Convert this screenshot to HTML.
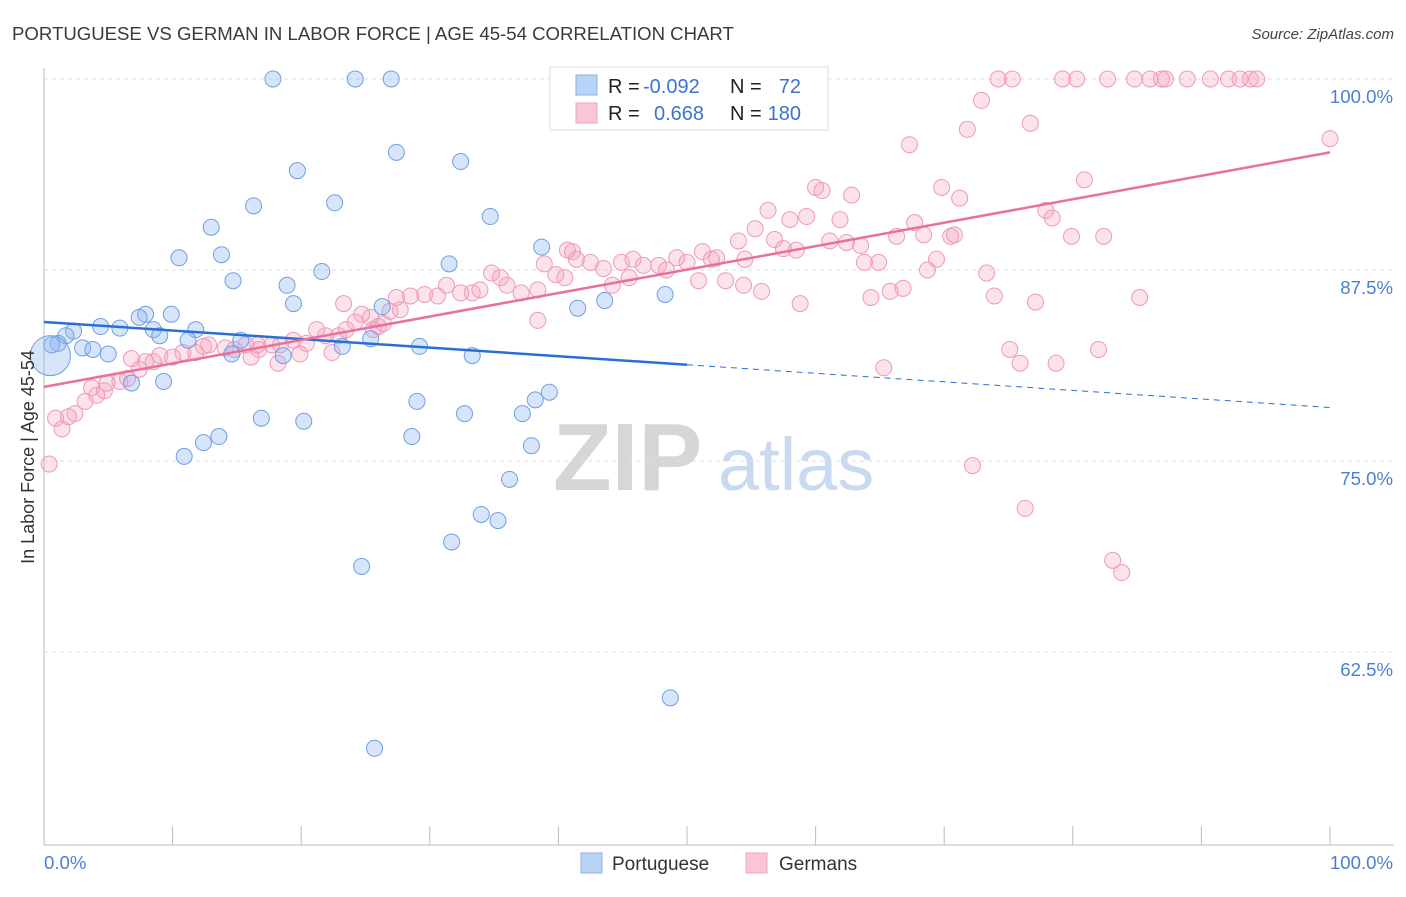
<!DOCTYPE html>
<html><head><meta charset="utf-8"><style>
body{margin:0;background:#fff;font-family:"Liberation Sans",sans-serif;}
svg text{font-family:"Liberation Sans",sans-serif;}
</style></head><body>
<svg id="chart" width="1406" height="892" xmlns="http://www.w3.org/2000/svg">
<text x="12" y="40" font-size="18.6" fill="#3a3a3a">PORTUGUESE VS GERMAN IN LABOR FORCE | AGE 45-54 CORRELATION CHART</text>
<text x="1394" y="39" font-size="15" fill="#444" font-style="italic" text-anchor="end">Source: ZipAtlas.com</text>
<g>
<text x="553" y="490" font-size="96" fill="#d6d6d6" font-family="Liberation Serif" font-weight="bold">ZIP</text>
<text x="718" y="490" font-size="74" fill="#c9daf0">atlas</text>
</g>
<g id="grid"></g>
<g id="axes"></g>
<g id="marks"></g>
<g>
<rect x="550" y="67" width="278" height="63" fill="#fff" stroke="#ddd"/>
<rect x="576" y="75" width="21" height="20" fill="#b9d3f5" stroke="#8ab2ea"/>
<rect x="576" y="103" width="21" height="20" fill="#fac6d6" stroke="#f0a4bc"/>
<text x="608" y="93" font-size="20" fill="#222">R =</text>
<text x="643" y="93" font-size="20" fill="#3b73d4">-0.092</text>
<text x="730" y="93" font-size="20" fill="#222">N =</text>
<text x="801" y="93" font-size="20" fill="#3b73d4" text-anchor="end">72</text>
<text x="608" y="120" font-size="20" fill="#222">R =</text>
<text x="654" y="120" font-size="20" fill="#3b73d4">0.668</text>
<text x="730" y="120" font-size="20" fill="#222">N =</text>
<text x="801" y="120" font-size="20" fill="#3b73d4" text-anchor="end">180</text>
</g>
<g>
<rect x="581" y="853" width="21" height="20" fill="#b9d3f5" stroke="#8ab2ea"/>
<text x="612" y="870" font-size="19" fill="#333">Portuguese</text>
<rect x="746" y="853" width="21" height="20" fill="#fac6d6" stroke="#f0a4bc"/>
<text x="779" y="870" font-size="19" fill="#333">Germans</text>
</g>
<text transform="translate(34,457) rotate(-90)" font-size="18" fill="#333" text-anchor="middle">In Labor Force | Age 45-54</text>
</svg>
<script>
const blueX=[17.8,24.2,27.0,45.4,19.7,27.4,32.4,16.3,22.6,34.7,13.0,13.8,10.5,38.7,31.5,14.7,18.9,21.6,19.4,48.3,43.6,41.5,26.3,9.9,7.9,7.4,4.4,5.9,8.5,2.3,1.7,11.8,9.0,1.1,3.0,3.8,5.0,11.2,15.3,23.2,25.4,29.2,33.3,14.6,18.6,9.3,6.8,29.0,39.3,38.2,37.2,32.7,16.9,20.2,13.6,12.4,28.6,37.9,10.9,36.2,34.0,35.3,31.7,24.7,48.7,25.7,0.6];
const blueY=[100,100,100,100,94.0,95.2,94.6,91.7,91.9,91.0,90.3,88.5,88.3,89.0,87.9,86.8,86.5,87.4,85.3,85.9,85.5,85.0,85.1,84.6,84.6,84.4,83.8,83.7,83.6,83.5,83.2,83.6,83.2,82.7,82.4,82.3,82.0,82.9,82.9,82.5,83.0,82.5,81.9,82.0,81.9,80.2,80.1,78.9,79.5,79.0,78.1,78.1,77.8,77.6,76.6,76.2,76.6,76.0,75.3,73.8,71.5,71.1,69.7,68.1,59.5,56.2,82.6];
const bigX=[0.5], bigY=[81.9];
const pinkX=[74.2,75.3,79.2,80.3,82.7,84.8,86.0,86.9,87.2,88.9,90.7,92.1,93.0,93.8,94.3,72.9,100,76.7,71.8,67.3,80.9,69.8,71.2,60.0,60.5,62.8,56.3,59.3,58.0,61.9,67.7,77.9,78.4,55.3,54.0,56.8,57.5,58.5,61.1,62.4,63.5,66.3,68.4,70.5,70.8,79.9,82.4,69.4,68.7,63.8,64.9,73.3,41.1,41.4,42.5,43.5,44.9,45.8,46.6,47.8,48.4,49.2,50.0,51.2,51.9,52.3,54.5,50.9,53.0,54.4,55.8,64.3,65.8,66.8,73.9,77.1,85.2,58.8,40.7,38.9,39.8,40.5,38.4,37.1,35.5,34.8,36.0,33.9,33.3,32.4,31.3,30.6,29.6,28.5,27.4,27.7,26.9,26.0,26.4,25.4,24.7,24.2,23.5,22.9,21.9,21.2,20.4,19.4,18.4,17.7,16.7,16.6,15.7,14.8,14.1,12.8,12.4,11.8,10.8,10.0,9.0,8.5,7.9,7.4,6.8,6.5,5.9,4.9,4.7,4.1,3.7,3.2,2.4,1.9,0.9,1.4,0.4,18.2,19.9,22.4,16.1,23.3,25.6,38.4,44.2,45.5,75.1,75.9,78.7,82.0,65.3,72.2,76.3,83.1,83.8];
const pinkY=[100,100,100,100,100,100,100,100,100,100,100,100,100,100,100,98.6,96.1,97.1,96.7,95.7,93.4,92.9,92.2,92.9,92.7,92.4,91.4,91.0,90.8,90.8,90.6,91.4,90.9,90.2,89.4,89.5,88.9,88.8,89.4,89.3,89.1,89.7,89.8,89.7,89.8,89.7,89.7,88.2,87.5,88.0,88.0,87.3,88.7,88.2,88.0,87.6,88.0,88.2,87.8,87.8,87.5,88.3,88.0,88.7,88.2,88.3,88.2,86.8,86.8,86.5,86.1,85.7,86.1,86.3,85.8,85.4,85.7,85.3,88.8,87.9,87.2,87.0,86.2,86.0,87.0,87.3,86.5,86.2,86.0,86.0,86.5,85.8,85.9,85.8,85.7,84.9,84.8,83.8,84.0,84.4,84.6,84.1,83.6,83.2,83.2,83.6,82.7,82.9,82.6,82.6,82.3,82.6,82.6,82.3,82.4,82.6,82.5,82.1,82.1,81.8,81.9,81.5,81.5,81.0,81.7,80.4,80.2,80.1,79.6,79.3,79.8,78.9,78.1,77.9,77.8,77.1,74.8,81.4,82.0,82.1,81.8,85.3,83.6,84.2,86.5,87.0,82.3,81.4,81.4,82.3,81.1,74.7,71.9,68.5,67.7];
const blueTrend=[[0,84.1],[50,81.3],[100,78.5]];
const pinkTrend=[[0,79.85],[100,95.2]];
const yTicks=[100,87.5,75,62.5];
const yTickLabels=["100.0%","87.5%","75.0%","62.5%"];
const xTicks=[0,10,20,30,40,50,60,70,80,90,100];

const NS="http://www.w3.org/2000/svg";
const sx=v=>44+v*12.86;
const sy=v=>79+(100-v)*15.28;
function mk(parent,tag,attrs){const e=document.createElementNS(NS,tag);for(const k in attrs)e.setAttribute(k,attrs[k]);parent.appendChild(e);return e;}
const grid=document.getElementById('grid'),axes=document.getElementById('axes'),marks=document.getElementById('marks');
yTicks.forEach((t,i)=>{
  const l=mk(grid,'line',{x1:44,x2:1394,y1:sy(t),y2:sy(t),stroke:'#ddd','stroke-dasharray':'4,4'});
  
  
  const tx=mk(axes,'text',{x:1393,y:sy(t)+24,'font-size':18.6,fill:'#4a7fd6','text-anchor':'end'});
  tx.textContent=yTickLabels[i];
  
  
});
const ax=mk(axes,'line',{x1:44,x2:44,y1:68,y2:845,stroke:'#bbb'});


const bx=mk(axes,'line',{x1:44,x2:1394,y1:845,y2:845,stroke:'#bbb'});


xTicks.forEach(t=>{
  const l=mk(axes,'line',{x1:sx(t),x2:sx(t),y1:826,y2:845,stroke:'#bbb'});
  
  
});
const x0=mk(axes,'text',{x:44,y:869,'font-size':18.6,fill:'#4a7fd6'});x0.textContent='0.0%';


const x1=mk(axes,'text',{x:1393,y:869,'font-size':18.6,fill:'#4a7fd6','text-anchor':'end'});x1.textContent='100.0%';



pinkX.forEach((x,i)=>{
  const c=mk(marks,'circle',{cx:sx(x),cy:sy(pinkY[i]),r:8,fill:'rgba(246,160,188,0.3)',stroke:'#ef9ab5','stroke-width':1});
  
  
});
blueX.forEach((x,i)=>{
  const c=mk(marks,'circle',{cx:sx(x),cy:sy(blueY[i]),r:8,fill:'rgba(140,180,240,0.35)',stroke:'#6f9fe3','stroke-width':1});
  
  
});
bigX.forEach((x,i)=>{
  const c=mk(marks,'circle',{cx:sx(x),cy:sy(bigY[i]),r:20,fill:'rgba(140,180,240,0.35)',stroke:'#6f9fe3','stroke-width':1});
  
  
});
const bl=mk(marks,'line',{x1:sx(blueTrend[0][0]),y1:sy(blueTrend[0][1]),x2:sx(blueTrend[1][0]),y2:sy(blueTrend[1][1]),stroke:'#2a6fd6','stroke-width':2.5});


const bd=mk(marks,'line',{x1:sx(blueTrend[1][0]),y1:sy(blueTrend[1][1]),x2:sx(blueTrend[2][0]),y2:sy(blueTrend[2][1]),stroke:'#2a6fd6','stroke-width':1,'stroke-dasharray':'6,5'});


const pl=mk(marks,'line',{x1:sx(pinkTrend[0][0]),y1:sy(pinkTrend[0][1]),x2:sx(pinkTrend[1][0]),y2:sy(pinkTrend[1][1]),stroke:'#e8709a','stroke-width':2.5});


</script>
</body></html>
